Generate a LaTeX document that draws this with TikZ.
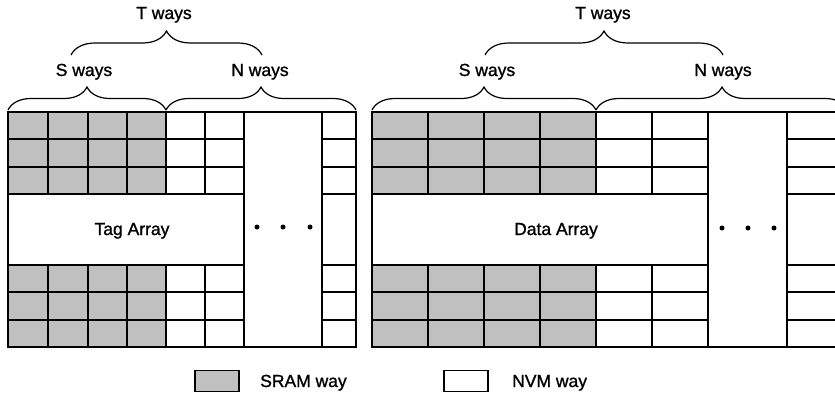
\documentclass[tikz,border=0pt]{standalone}
\usepackage{fontspec}
\setmainfont[FakeBold=1.2]{Liberation Sans}
\usetikzlibrary{decorations.pathreplacing}
\definecolor{sramgray}{RGB}{192,192,192}
\tikzset{
  grid/.style={line width=1.4pt, line cap=rect},
  bracestyle/.style={line width=1.2pt, decorate, decoration={brace, amplitude=#1}},
  lbl/.style={font=\fontsize{17.5}{20}\selectfont, inner sep=0pt, anchor=base},
  keybox/.style={draw, line width=1.3pt, minimum width=44pt, minimum height=21pt, inner sep=0pt},
  dotmark/.style={circle, fill=black, inner sep=0pt, minimum size=5pt}
}
\newcommand\drawarr[9]{%
  \fill[sramgray] (#1,112) rectangle (#5,194);
  \fill[sramgray] (#1,265) rectangle (#5,347);
  \foreach \y in {139,167,194,265,292,320}{
    \draw[grid] (#1,\y) -- (#7,\y);
    \draw[grid] (#8,\y) -- (#9,\y);
  }
  \draw[grid] (#1,112) -- (#9,112);
  \draw[grid] (#1,347) -- (#9,347);
  \foreach \x in {#2,#3,#4,#5,#6}{
    \draw[grid] (\x,112) -- (\x,194);
    \draw[grid] (\x,265) -- (\x,347);
  }
  \foreach \x in {#1,#7,#8,#9}{
    \draw[grid] (\x,112) -- (\x,347);
  }
}
\begin{document}
\begin{tikzpicture}[x=1pt,y=-1pt]
\useasboundingbox (0,0) rectangle (835,394);
\clip (0,0) rectangle (835,394);

% left array
\drawarr{8}{48}{88}{127}{166}{205}{244}{322}{356}
% right array
\drawarr{372}{428}{484}{540}{596}{652}{708}{787}{850}

% braces left
\coordinate (lA) at (8,110);
\coordinate (lB) at (166,110);
\coordinate (lC) at (356,110);
\coordinate (lT1) at (71,55);
\coordinate (lT2) at (262,55);
\draw[bracestyle=23pt] (lA) -- (lB);
\draw[bracestyle=23pt] (lB) -- (lC);
\draw[bracestyle=24pt] (lT1) -- (lT2);
% braces right
\coordinate (rA) at (372,110);
\coordinate (rB) at (596,110);
\coordinate (rC) at (848,110);
\coordinate (rT1) at (485,55);
\coordinate (rT2) at (723,55);
\draw[bracestyle=23pt] (rA) -- (rB);
\draw[bracestyle=23pt] (rB) -- (rC);
\draw[bracestyle=24pt] (rT1) -- (rT2);

% labels
\node[lbl] (tw1) at (164,19) {T ways};
\node[lbl] (sw1) at (84,76) {S ways};
\node[lbl] (nw1) at (260,76) {N ways};
\node[lbl] (tw2) at (603,19) {T ways};
\node[lbl] (sw2) at (487,76) {S ways};
\node[lbl] (nw2) at (723,76) {N ways};
\node[lbl] (tag) at (132,235) {Tag Array};
\node[lbl] (data) at (556,235) {Data Array};

% dots
\node[dotmark] (ld1) at (257,227) {};
\node[dotmark] (ld2) at (283,227) {};
\node[dotmark] (ld3) at (310,227) {};
\node[dotmark] (rd1) at (722,228) {};
\node[dotmark] (rd2) at (748,228) {};
\node[dotmark] (rd3) at (774,228) {};

% legend
\node[keybox, fill=sramgray] (sramkey) at (217,381) {};
\node[lbl, anchor=base west] (sramtxt) at (260,387) {SRAM way};
\node[keybox, fill=white] (nvmkey) at (466,381) {};
\node[lbl, anchor=base west] (nvmtxt) at (512,387) {NVM way};
\end{tikzpicture}
\end{document}
